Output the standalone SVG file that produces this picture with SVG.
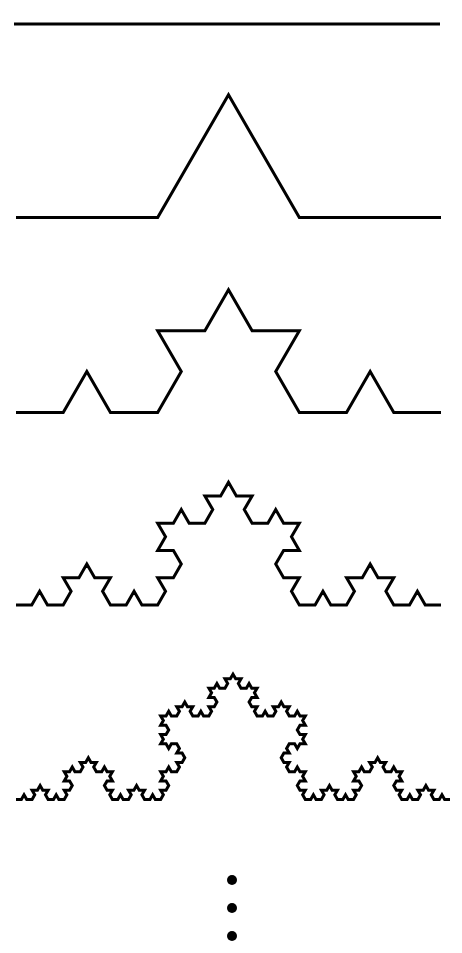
<svg xmlns="http://www.w3.org/2000/svg" width="462" height="953" viewBox="0 0 462 953">
<style>
.k{fill:none;stroke:#000;stroke-width:3;stroke-linejoin:miter;stroke-miterlimit:10;vector-effect:non-scaling-stroke}
.d{fill:#000}
</style>
<rect width="462" height="953" fill="#fff"/>
<g id="level0"><path class="k" d="M14 24 H440"/></g>
<g id="level1"><path class="k" transform="translate(16 217.5) scale(70.8333 -122.6869)" d="M0 0 l2 0 1 1 1 -1 2 0"/></g>
<g id="level2"><path class="k" transform="translate(16 412.5) scale(23.6111 -40.8956)" d="M0 0 l2 0 1 1 1 -1 2 0 1 1 -1 1 2 0 1 1 1 -1 2 0 -1 -1 1 -1 2 0 1 1 1 -1 2 0"/></g>
<g id="level3"><path class="k" transform="translate(16 605) scale(7.87037 -13.6319)" d="M0 0 l2 0 1 1 1 -1 2 0 1 1 -1 1 2 0 1 1 1 -1 2 0 -1 -1 1 -1 2 0 1 1 1 -1 2 0
1 1 -1 1 2 0 1 1 -1 1 -2 0 1 1 -1 1 2 0 1 1 1 -1 2 0 1 1 -1 1 2 0 1 1
1 -1 2 0 -1 -1 1 -1 2 0 1 1 1 -1 2 0 -1 -1 1 -1 -2 0 -1 -1 1 -1 2 0 -1 -1 1 -1
2 0 1 1 1 -1 2 0 1 1 -1 1 2 0 1 1 1 -1 2 0 -1 -1 1 -1 2 0 1 1 1 -1 2 0"/></g>
<g id="level4"><path class="k" transform="translate(16 799.5) scale(2.67901 -4.64025)" d="M0 0 l2 0 1 1 1 -1 2 0 1 1 -1 1 2 0 1 1 1 -1 2 0 -1 -1 1 -1 2 0 1 1 1 -1 2 0
1 1 -1 1 2 0 1 1 -1 1 -2 0 1 1 -1 1 2 0 1 1 1 -1 2 0 1 1 -1 1 2 0 1 1
1 -1 2 0 -1 -1 1 -1 2 0 1 1 1 -1 2 0 -1 -1 1 -1 -2 0 -1 -1 1 -1 2 0 -1 -1 1 -1
2 0 1 1 1 -1 2 0 1 1 -1 1 2 0 1 1 1 -1 2 0 -1 -1 1 -1 2 0 1 1 1 -1 2 0
1 1 -1 1 2 0 1 1 -1 1 -2 0 1 1 -1 1 2 0 1 1 1 -1 2 0 1 1 -1 1 2 0 1 1
-1 1 -2 0 1 1 -1 1 -2 0 -1 -1 -1 1 -2 0 1 1 -1 1 2 0 1 1 -1 1 -2 0 1 1 -1 1
2 0 1 1 1 -1 2 0 1 1 -1 1 2 0 1 1 1 -1 2 0 -1 -1 1 -1 2 0 1 1 1 -1 2 0
1 1 -1 1 2 0 1 1 -1 1 -2 0 1 1 -1 1 2 0 1 1 1 -1 2 0 1 1 -1 1 2 0 1 1
1 -1 2 0 -1 -1 1 -1 2 0 1 1 1 -1 2 0 -1 -1 1 -1 -2 0 -1 -1 1 -1 2 0 -1 -1 1 -1
2 0 1 1 1 -1 2 0 1 1 -1 1 2 0 1 1 1 -1 2 0 -1 -1 1 -1 2 0 1 1 1 -1 2 0
-1 -1 1 -1 -2 0 -1 -1 1 -1 2 0 -1 -1 1 -1 -2 0 -1 -1 -1 1 -2 0 -1 -1 1 -1 -2 0 -1 -1
1 -1 2 0 -1 -1 1 -1 2 0 1 1 1 -1 2 0 -1 -1 1 -1 -2 0 -1 -1 1 -1 2 0 -1 -1 1 -1
2 0 1 1 1 -1 2 0 1 1 -1 1 2 0 1 1 1 -1 2 0 -1 -1 1 -1 2 0 1 1 1 -1 2 0
1 1 -1 1 2 0 1 1 -1 1 -2 0 1 1 -1 1 2 0 1 1 1 -1 2 0 1 1 -1 1 2 0 1 1
1 -1 2 0 -1 -1 1 -1 2 0 1 1 1 -1 2 0 -1 -1 1 -1 -2 0 -1 -1 1 -1 2 0 -1 -1 1 -1
2 0 1 1 1 -1 2 0 1 1 -1 1 2 0 1 1 1 -1 2 0 -1 -1 1 -1 2 0 1 1 1 -1 2 0"/></g>
<g id="ellipsis">
<circle class="d" cx="232" cy="880" r="5"/>
<circle class="d" cx="232" cy="908" r="5"/>
<circle class="d" cx="232" cy="936" r="5"/>
</g>
</svg>
